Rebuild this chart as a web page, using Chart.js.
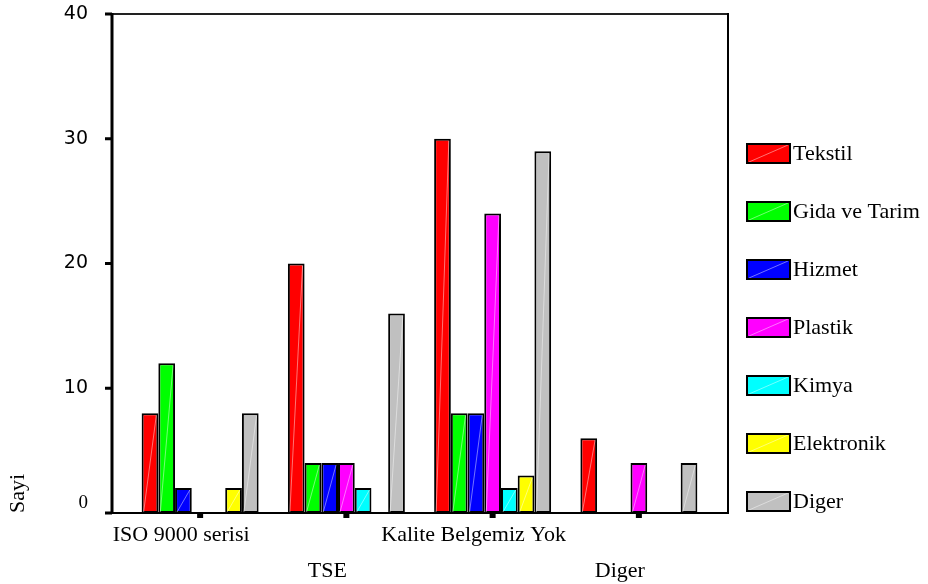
<!DOCTYPE html>
<html>
<head>
<meta charset="utf-8">
<script src="https://cdn.jsdelivr.net/npm/chart.js@4.4.0/dist/chart.umd.min.js"></script>
<style>
  html, body { margin: 0; padding: 0; background: #ffffff; }
  #wrap { width: 928px; height: 584px; }
</style>
</head>
<body>
<div id="wrap"><canvas id="c" width="928" height="584"></canvas></div>
<script>
// Certificate categories on the x axis
const categories = ['ISO 9000 serisi', 'TSE', 'Kalite Belgemiz Yok', 'Diger'];

// Counts per sector
const tekstil     = [8, 20, 30, 6];
const gidaVeTarim = [12, 4, 8, 0];
const hizmet      = [2, 4, 8, 0];
const plastik     = [0, 4, 24, 4];
const kimya       = [0, 2, 2, 0];
const elektronik  = [2, 0, 3, 0];
const diger       = [8, 16, 29, 4];

const seriesNames = ['Tekstil', 'Gida ve Tarim', 'Hizmet', 'Plastik', 'Kimya', 'Elektronik', 'Diger'];
const seriesValues = [tekstil, gidaVeTarim, hizmet, plastik, kimya, elektronik, diger];
const seriesColors = ['#ff0000', '#00ff00', '#0000ff', '#ff00ff', '#00ffff', '#ffff00', '#c0c0c0'];

// Y axis
const yTicks = [0, 10, 20, 30, 40];
const yTitle = 'Sayi';

const SERIF = "'Liberation Serif', 'Times New Roman', serif";
const SANS = "'DejaVu Sans', Verdana, sans-serif";

// Frame, axis lines, tick marks and the faint diagonal sheen on each bar
const framePlugin = {
  id: 'frame',
  afterDatasetsDraw(chart) {
    const ctx = chart.ctx;
    const a = chart.chartArea;
    const xs = chart.scales.x, ys = chart.scales.y;
    const L = a.left - 15, R = a.right + 16, T = a.top, B = a.bottom;

    // sheen lines inside bars
    ctx.save();
    ctx.strokeStyle = 'rgba(255,255,255,0.45)';
    ctx.lineWidth = 1;
    chart.data.datasets.forEach((ds, di) => {
      const meta = chart.getDatasetMeta(di);
      meta.data.forEach(bar => {
        const p = bar.getProps(['x', 'y', 'base', 'width'], true);
        if (p.base - p.y < 4) return;
        ctx.beginPath();
        ctx.moveTo(p.x - p.width / 2 + 2, p.base - 1);
        ctx.lineTo(p.x + p.width / 2 - 2, p.y + 2);
        ctx.stroke();
      });
    });
    ctx.restore();

    ctx.save();
    ctx.fillStyle = '#000';
    // top and right frame
    ctx.lineWidth = 2;
    ctx.strokeStyle = '#222';
    ctx.beginPath();
    ctx.moveTo(L, T); ctx.lineTo(R, T);
    ctx.stroke();
    ctx.strokeStyle = '#000';
    ctx.beginPath();
    ctx.moveTo(R, T - 1); ctx.lineTo(R, B);
    ctx.stroke();
    // bottom axis
    ctx.beginPath();
    ctx.moveTo(L, B); ctx.lineTo(R + 1, B);
    ctx.stroke();
    // left axis
    ctx.lineWidth = 3;
    ctx.beginPath();
    ctx.moveTo(L, T - 1); ctx.lineTo(L, B + 1);
    ctx.stroke();
    // y tick marks
    yTicks.forEach(v => {
      const y = ys.getPixelForValue(v);
      ctx.fillRect(L - 7, y - 1.5, 7, 3);
    });
    // x tick marks
    categories.forEach((c, i) => {
      const x = xs.getPixelForValue(i);
      ctx.fillRect(x - 3, B, 6, 5);
    });
    ctx.restore();
  }
};

// Legend drawn as a column of swatches on the right
const legendPlugin = {
  id: 'sideLegend',
  afterDraw(chart) {
    const ctx = chart.ctx;
    const bx = 746, bw = 45, bh = 21, top = 143, step = 58;
    ctx.save();
    chart.data.datasets.forEach((ds, i) => {
      const y = top + i * step;
      ctx.fillStyle = ds.backgroundColor;
      ctx.fillRect(bx, y, bw, bh);
      ctx.strokeStyle = 'rgba(255,255,255,0.45)';
      ctx.lineWidth = 1;
      ctx.beginPath();
      ctx.moveTo(bx + 3, y + bh - 2);
      ctx.lineTo(bx + bw - 3, y + 2);
      ctx.stroke();
      ctx.strokeStyle = '#000';
      ctx.lineWidth = 2;
      ctx.strokeRect(bx + 1, y + 1, bw - 2, bh - 2);
      ctx.fillStyle = '#000';
      ctx.font = '22px ' + SERIF;
      ctx.textAlign = 'left';
      ctx.textBaseline = 'middle';
      ctx.fillText(ds.label, bx + bw + 2, y + bh / 2 + 1);
    });
    ctx.restore();
  }
};

const datasets = seriesNames.map((name, i) => ({
  label: name,
  data: seriesValues[i],
  backgroundColor: seriesColors[i],
  borderColor: '#000000',
  borderWidth: 2,
  borderSkipped: false,
  categoryPercentage: 0.8,
  barPercentage: 1.0
}));

new Chart(document.getElementById('c'), {
  type: 'bar',
  data: { labels: categories, datasets },
  options: {
    responsive: false,
    animation: false,
    devicePixelRatio: 1,
    layout: { padding: { left: 0, top: 14, right: 216, bottom: 0 } },
    plugins: { legend: { display: false }, tooltip: { enabled: false } },
    scales: {
      x: {
        offset: true,
        grid: { display: false, drawTicks: false },
        border: { display: false },
        ticks: {
          padding: 4,
          labelOffset: -19,
          maxRotation: 0,
          autoSkip: false,
          color: '#000',
          font: { family: SERIF, size: 22, lineHeight: 36 / 22 },
          callback: (v, i) => (i % 2 === 1 ? ['', categories[i]] : [categories[i]])
        },
        afterFit(scale) {
          scale.height = 71;
          scale.paddingLeft = 0; scale.paddingRight = 0;
        }
      },
      y: {
        min: 0,
        max: 40,
        grid: { display: false, drawTicks: false },
        border: { display: false },
        ticks: {
          stepSize: 10,
          padding: 39,
          color: '#000',
          font: ctx => (ctx.tick && ctx.tick.value === 0)
            ? { family: SERIF, size: 19, lineHeight: 1.0 }
            : { family: SANS, size: 19 },
          callback: v => (v === 0 ? ['0', ''] : String(v))
        },
        title: {
          display: true,
          text: yTitle,
          align: 'start',
          color: '#000',
          font: { family: SERIF, size: 22 },
          padding: { top: 5, bottom: 0 }
        },
        afterFit(scale) {
          scale.width = 127;
          scale.paddingTop = 0; scale.paddingBottom = 0;
        }
      }
    }
  },
  plugins: [framePlugin, legendPlugin]
});
</script>
</body>
</html>
